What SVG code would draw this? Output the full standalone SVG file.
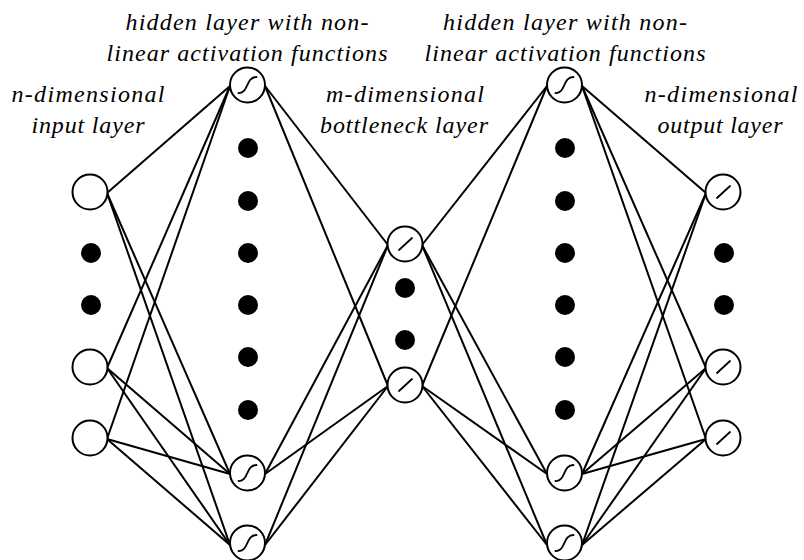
<svg xmlns="http://www.w3.org/2000/svg" width="804" height="560" viewBox="0 0 804 560">
  <style>
    .node { fill: #fff; stroke: #000; stroke-width: 2; }
    .icon { fill: none; stroke: #000; stroke-width: 1.8; stroke-linecap: round; }
    .dot { fill: #000; }
    .edges line { stroke: #000; stroke-width: 2; }
  </style>
  <defs>
    <circle id="ring" r="17.5" class="node"/>
    <path id="sig" class="icon" d="M -9 8 C 1 9 -2 -8 9 -8"/>
    <path id="lin" class="icon" d="M -6 6 L 7 -6"/>
  </defs>

  <rect width="804" height="560" fill="#fff"/>

  <!-- connectors -->
  <g id="edges" class="edges">
    <!-- input -> hidden 1 -->
    <line x1="107" y1="193" x2="230" y2="86"/>
    <line x1="107" y1="193" x2="230" y2="474"/>
    <line x1="107" y1="193" x2="230" y2="545"/>
    <line x1="107" y1="368" x2="230" y2="86"/>
    <line x1="107" y1="368" x2="230" y2="474"/>
    <line x1="107" y1="368" x2="230" y2="545"/>
    <line x1="107" y1="439" x2="230" y2="86"/>
    <line x1="107" y1="439" x2="230" y2="474"/>
    <line x1="107" y1="439" x2="230" y2="545"/>
    <!-- hidden 1 -> bottleneck -->
    <line x1="265" y1="86" x2="388" y2="245"/>
    <line x1="265" y1="86" x2="388" y2="386"/>
    <line x1="265" y1="474" x2="388" y2="245"/>
    <line x1="265" y1="474" x2="388" y2="386"/>
    <line x1="265" y1="545" x2="388" y2="245"/>
    <line x1="265" y1="545" x2="388" y2="386"/>
    <!-- bottleneck -> hidden 2 -->
    <line x1="422" y1="245" x2="547" y2="86"/>
    <line x1="422" y1="245" x2="547" y2="474"/>
    <line x1="422" y1="245" x2="547" y2="545"/>
    <line x1="422" y1="386" x2="547" y2="86"/>
    <line x1="422" y1="386" x2="547" y2="474"/>
    <line x1="422" y1="386" x2="547" y2="545"/>
    <!-- hidden 2 -> output -->
    <line x1="582" y1="86" x2="706" y2="193"/>
    <line x1="582" y1="86" x2="706" y2="368"/>
    <line x1="582" y1="86" x2="706" y2="439"/>
    <line x1="582" y1="474" x2="706" y2="193"/>
    <line x1="582" y1="474" x2="706" y2="368"/>
    <line x1="582" y1="474" x2="706" y2="439"/>
    <line x1="582" y1="545" x2="706" y2="193"/>
    <line x1="582" y1="545" x2="706" y2="368"/>
    <line x1="582" y1="545" x2="706" y2="439"/>
  </g>

  <!-- input layer -->
  <g id="input-layer">
    <use href="#ring" x="90" y="192"/>
    <circle class="dot" cx="91" cy="253" r="10"/>
    <circle class="dot" cx="91" cy="305" r="10"/>
    <use href="#ring" x="90" y="367"/>
    <use href="#ring" x="90" y="438"/>
  </g>

  <!-- first hidden layer (sigmoid units) -->
  <g id="hidden-layer-1">
    <g transform="translate(247.5 85)"><use href="#ring"/><use href="#sig"/></g>
    <circle class="dot" cx="248" cy="148" r="10"/>
    <circle class="dot" cx="248" cy="201" r="10"/>
    <circle class="dot" cx="248" cy="253" r="10"/>
    <circle class="dot" cx="248" cy="305" r="10"/>
    <circle class="dot" cx="248" cy="357" r="10"/>
    <circle class="dot" cx="248" cy="410" r="10"/>
    <g transform="translate(247.5 473)"><use href="#ring"/><use href="#sig"/></g>
    <g transform="translate(247.5 543)"><use href="#ring"/><use href="#sig"/></g>
  </g>

  <!-- bottleneck layer (linear units) -->
  <g id="bottleneck-layer">
    <g transform="translate(405 244)"><use href="#ring"/><use href="#lin"/></g>
    <circle class="dot" cx="405" cy="288" r="10"/>
    <circle class="dot" cx="405" cy="340" r="10"/>
    <g transform="translate(405 385)"><use href="#ring"/><use href="#lin"/></g>
  </g>

  <!-- second hidden layer (sigmoid units) -->
  <g id="hidden-layer-2">
    <g transform="translate(564.5 85)"><use href="#ring"/><use href="#sig"/></g>
    <circle class="dot" cx="565" cy="148" r="10"/>
    <circle class="dot" cx="565" cy="201" r="10"/>
    <circle class="dot" cx="565" cy="253" r="10"/>
    <circle class="dot" cx="565" cy="305" r="10"/>
    <circle class="dot" cx="565" cy="357" r="10"/>
    <circle class="dot" cx="565" cy="410" r="10"/>
    <g transform="translate(564.5 473)"><use href="#ring"/><use href="#sig"/></g>
    <g transform="translate(564.5 543)"><use href="#ring"/><use href="#sig"/></g>
  </g>

  <!-- output layer (linear units) -->
  <g id="output-layer">
    <g transform="translate(723 192)"><use href="#ring"/><use href="#lin"/></g>
    <circle class="dot" cx="724" cy="253" r="10"/>
    <circle class="dot" cx="724" cy="305" r="10"/>
    <g transform="translate(723 367)"><use href="#ring"/><use href="#lin"/></g>
    <g transform="translate(723 438)"><use href="#ring"/><use href="#lin"/></g>
  </g>

  <!-- labels -->
  <g id="labels" font-family="Liberation Serif, serif" font-style="italic" font-size="24" text-anchor="middle" fill="#000">
    <text x="247" y="30" textLength="243" lengthAdjust="spacing">hidden layer with non-</text>
    <text x="247" y="61" textLength="281" lengthAdjust="spacing">linear activation functions</text>
    <text x="565" y="30" textLength="244" lengthAdjust="spacing">hidden layer with non-</text>
    <text x="565" y="61" textLength="281" lengthAdjust="spacing">linear activation functions</text>
    <text x="88" y="102" textLength="153" lengthAdjust="spacing">n-dimensional</text>
    <text x="88" y="133" textLength="113" lengthAdjust="spacing">input layer</text>
    <text x="405" y="102" textLength="158" lengthAdjust="spacing">m-dimensional</text>
    <text x="404" y="133" textLength="168" lengthAdjust="spacing">bottleneck layer</text>
    <text x="721" y="102" textLength="153" lengthAdjust="spacing">n-dimensional</text>
    <text x="720" y="133" textLength="125" lengthAdjust="spacing">output layer</text>
  </g>
</svg>
